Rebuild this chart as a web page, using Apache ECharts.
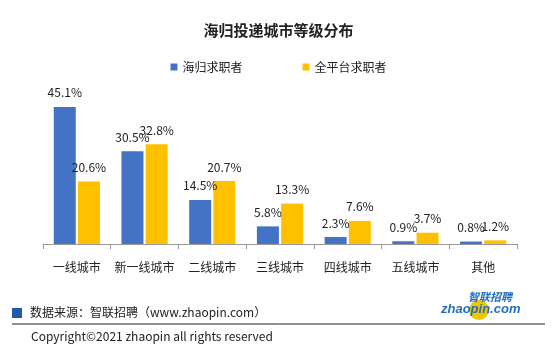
<!DOCTYPE html>
<html>
<head>
<meta charset="utf-8">
<script src="https://cdn.jsdelivr.net/npm/echarts@6/dist/echarts.min.js"></script>
<style>
  html, body { margin: 0; padding: 0; background: #fff; }
  #chart { width: 557px; height: 351px; }
</style>
</head>
<body>
<div id="chart"></div>
<script>
const categories = ['一线城市', '新一线城市', '二线城市', '三线城市', '四线城市', '五线城市', '其他']
const returneeShare = [45.1, 30.5, 14.5, 5.8, 2.3, 0.9, 0.8]
const platformShare = [20.6, 32.8, 20.7, 13.3, 7.6, 3.7, 1.2]

const font = '"Noto Sans CJK SC", "Microsoft YaHei", sans-serif'
const chart = echarts.init(document.getElementById('chart'))

const labelStyle = {
  show: true,
  position: 'top',
  distance: 8,
  color: '#222',
  fontSize: 12,
  fontFamily: font,
  formatter: p => p.value.toFixed(1) + '%'
}

chart.setOption({
  animation: false,
  title: {
    text: '海归投递城市等级分布',
    left: 'center',
    top: 18,
    textStyle: { fontSize: 15, fontWeight: 'bold', color: '#222', fontFamily: font }
  },
  legend: {
    top: 56,
    left: 'center',
    itemGap: 60,
    itemWidth: 7,
    itemHeight: 7,
    icon: 'rect',
    textStyle: { fontSize: 12, color: '#222', fontFamily: font },
    data: ['海归求职者', '全平台求职者']
  },
  grid: { left: 43, right: 40, top: 92, bottom: 107 },
  xAxis: {
    type: 'category',
    data: categories,
    axisLine: { lineStyle: { color: '#999' } },
    axisTick: { show: true, length: 5, lineStyle: { color: '#999' } },
    axisLabel: { interval: 0, margin: 17, fontSize: 12, color: '#222', fontFamily: font }
  },
  yAxis: {
    type: 'value',
    min: 0,
    max: 50,
    show: false
  },
  series: [
    {
      name: '海归求职者',
      type: 'bar',
      data: returneeShare,
      barWidth: 22,
      barGap: '10%',
      itemStyle: { color: '#4472C4' },
      label: labelStyle
    },
    {
      name: '全平台求职者',
      type: 'bar',
      data: platformShare,
      barWidth: 22,
      itemStyle: { color: '#FFC000' },
      label: labelStyle
    }
  ],
  graphic: [
    { type: 'rect', shape: { x: 12, y: 308, width: 10, height: 10 }, style: { fill: '#1F5BA8' } },
    {
      type: 'text', x: 30, y: 306,
      style: { text: '数据来源：智联招聘（www.zhaopin.com）', fontSize: 12, fill: '#222', fontFamily: font }
    },
    { type: 'line', shape: { x1: 12, y1: 324, x2: 545, y2: 324 }, style: { stroke: '#222', lineWidth: 1 } },
    {
      type: 'text', x: 31, y: 330,
      style: { text: 'Copyright©2021 zhaopin all rights reserved', fontSize: 12, fill: '#222', fontFamily: font }
    },
    { type: 'circle', shape: { cx: 479, cy: 310, r: 10 }, style: { fill: '#F5C400' } },
    {
      type: 'text', x: 468, y: 291,
      style: { text: '智联招聘', fontSize: 11, fontStyle: 'italic', fontWeight: 'bold', fill: '#1F6FC0', fontFamily: font }
    },
    {
      type: 'text', x: 441, y: 303,
      style: { text: 'zhaopin.com', fontSize: 13, fontStyle: 'italic', fontWeight: 'bold', fill: '#1F6FC0', fontFamily: 'Liberation Sans, sans-serif' }
    }
  ]
})
</script>
</body>
</html>
